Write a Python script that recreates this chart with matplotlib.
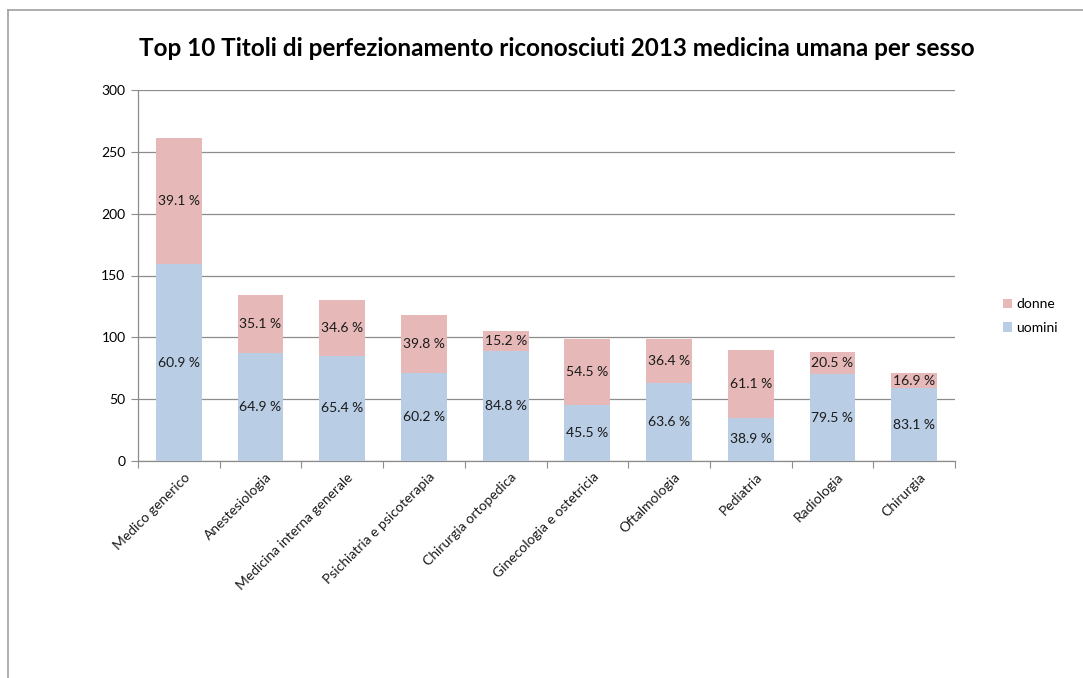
import numpy as np
import matplotlib.pyplot as plt
from matplotlib.lines import Line2D

plt.rcParams['font.family'] = ['Lato', 'DejaVu Sans']

# -----------------------------
# data
# -----------------------------
categories = ["Medico generico", "Anestesiologia", "Medicina interna generale",
              "Psichiatria e psicoterapia", "Chirurgia ortopedica",
              "Ginecologia e ostetricia", "Oftalmologia", "Pediatria",
              "Radiologia", "Chirurgia"]
uomini = [159, 87, 85, 71, 89, 45, 63, 35, 70, 59]
donne = [102, 47, 45, 47, 16, 54, 36, 55, 18, 12]
pct_uomini = ["60.9 %", "64.9 %", "65.4 %", "60.2 %", "84.8 %",
              "45.5 %", "63.6 %", "38.9 %", "79.5 %", "83.1 %"]
pct_donne = ["39.1 %", "35.1 %", "34.6 %", "39.8 %", "15.2 %",
             "54.5 %", "36.4 %", "61.1 %", "20.5 %", "16.9 %"]

c_uomini = "#B9CDE5"
c_donne = "#E6B9B8"
grid_c = "#8C8C8C"

fig = plt.figure(figsize=(10.83, 6.78), dpi=100)
ax = fig.add_axes([138/1083, 1 - 461/678, (955-138)/1083, (461-90)/678])

x = np.arange(len(categories))
w = 0.56
b1 = ax.bar(x, uomini, w, color=c_uomini, label="uomini", zorder=3)
b2 = ax.bar(x, donne, w, bottom=uomini, color=c_donne, label="donne", zorder=3)

# labels in the middle of each segment
for i in range(len(x)):
    ax.text(x[i], uomini[i] / 2, pct_uomini[i], ha="center", va="center",
            fontsize=10, color="#1a1a1a", zorder=4)
    ax.text(x[i], uomini[i] + donne[i] / 2, pct_donne[i], ha="center", va="center",
            fontsize=10, color="#1a1a1a", zorder=4)

ax.set_xlim(-0.5, len(x) - 0.5)
ax.set_ylim(0, 300)
ax.set_yticks(range(0, 301, 50))
ax.yaxis.grid(True, color=grid_c, lw=0.9, zorder=0)
ax.tick_params(axis="y", length=5, color=grid_c, labelsize=10, pad=4)

# x ticks at category boundaries, labels at centres
ax.set_xticks(np.arange(-0.5, len(x), 1.0))
ax.set_xticklabels([])
ax.tick_params(axis="x", length=5, color=grid_c, direction="out")
for i, name in enumerate(categories):
    ax.text(x[i] + 0.06, -8, name, rotation=45, ha="right", va="top",
            rotation_mode="anchor", fontsize=10, color="#1a1a1a")

for s in ["top", "right"]:
    ax.spines[s].set_visible(False)
for s in ["left", "bottom"]:
    ax.spines[s].set_color(grid_c)
    ax.spines[s].set_linewidth(0.9)

fig.text(557/1083, 1 - 48/678,
         "Top 10 Titoli di perfezionamento riconosciuti 2013 medicina umana per sesso",
         ha="center", va="center", fontsize=17.5, fontweight="bold")

leg = fig.legend(handles=[b2, b1], labels=["donne", "uomini"],
                 loc="center left", bbox_to_anchor=(990/1083, 1 - 316/678),
                 frameon=False, fontsize=10, handlelength=0.7, handleheight=0.7,
                 handletextpad=0.3, labelspacing=0.8)

# chart frame (left and top edges)
fig.add_artist(Line2D([8/1083, 8/1083], [0, 1 - 10/678], color="#A0A0A0", lw=1.2))
fig.add_artist(Line2D([8/1083, 1], [1 - 10/678, 1 - 10/678], color="#A0A0A0", lw=1.2))

fig.savefig("out.png", dpi=100)
